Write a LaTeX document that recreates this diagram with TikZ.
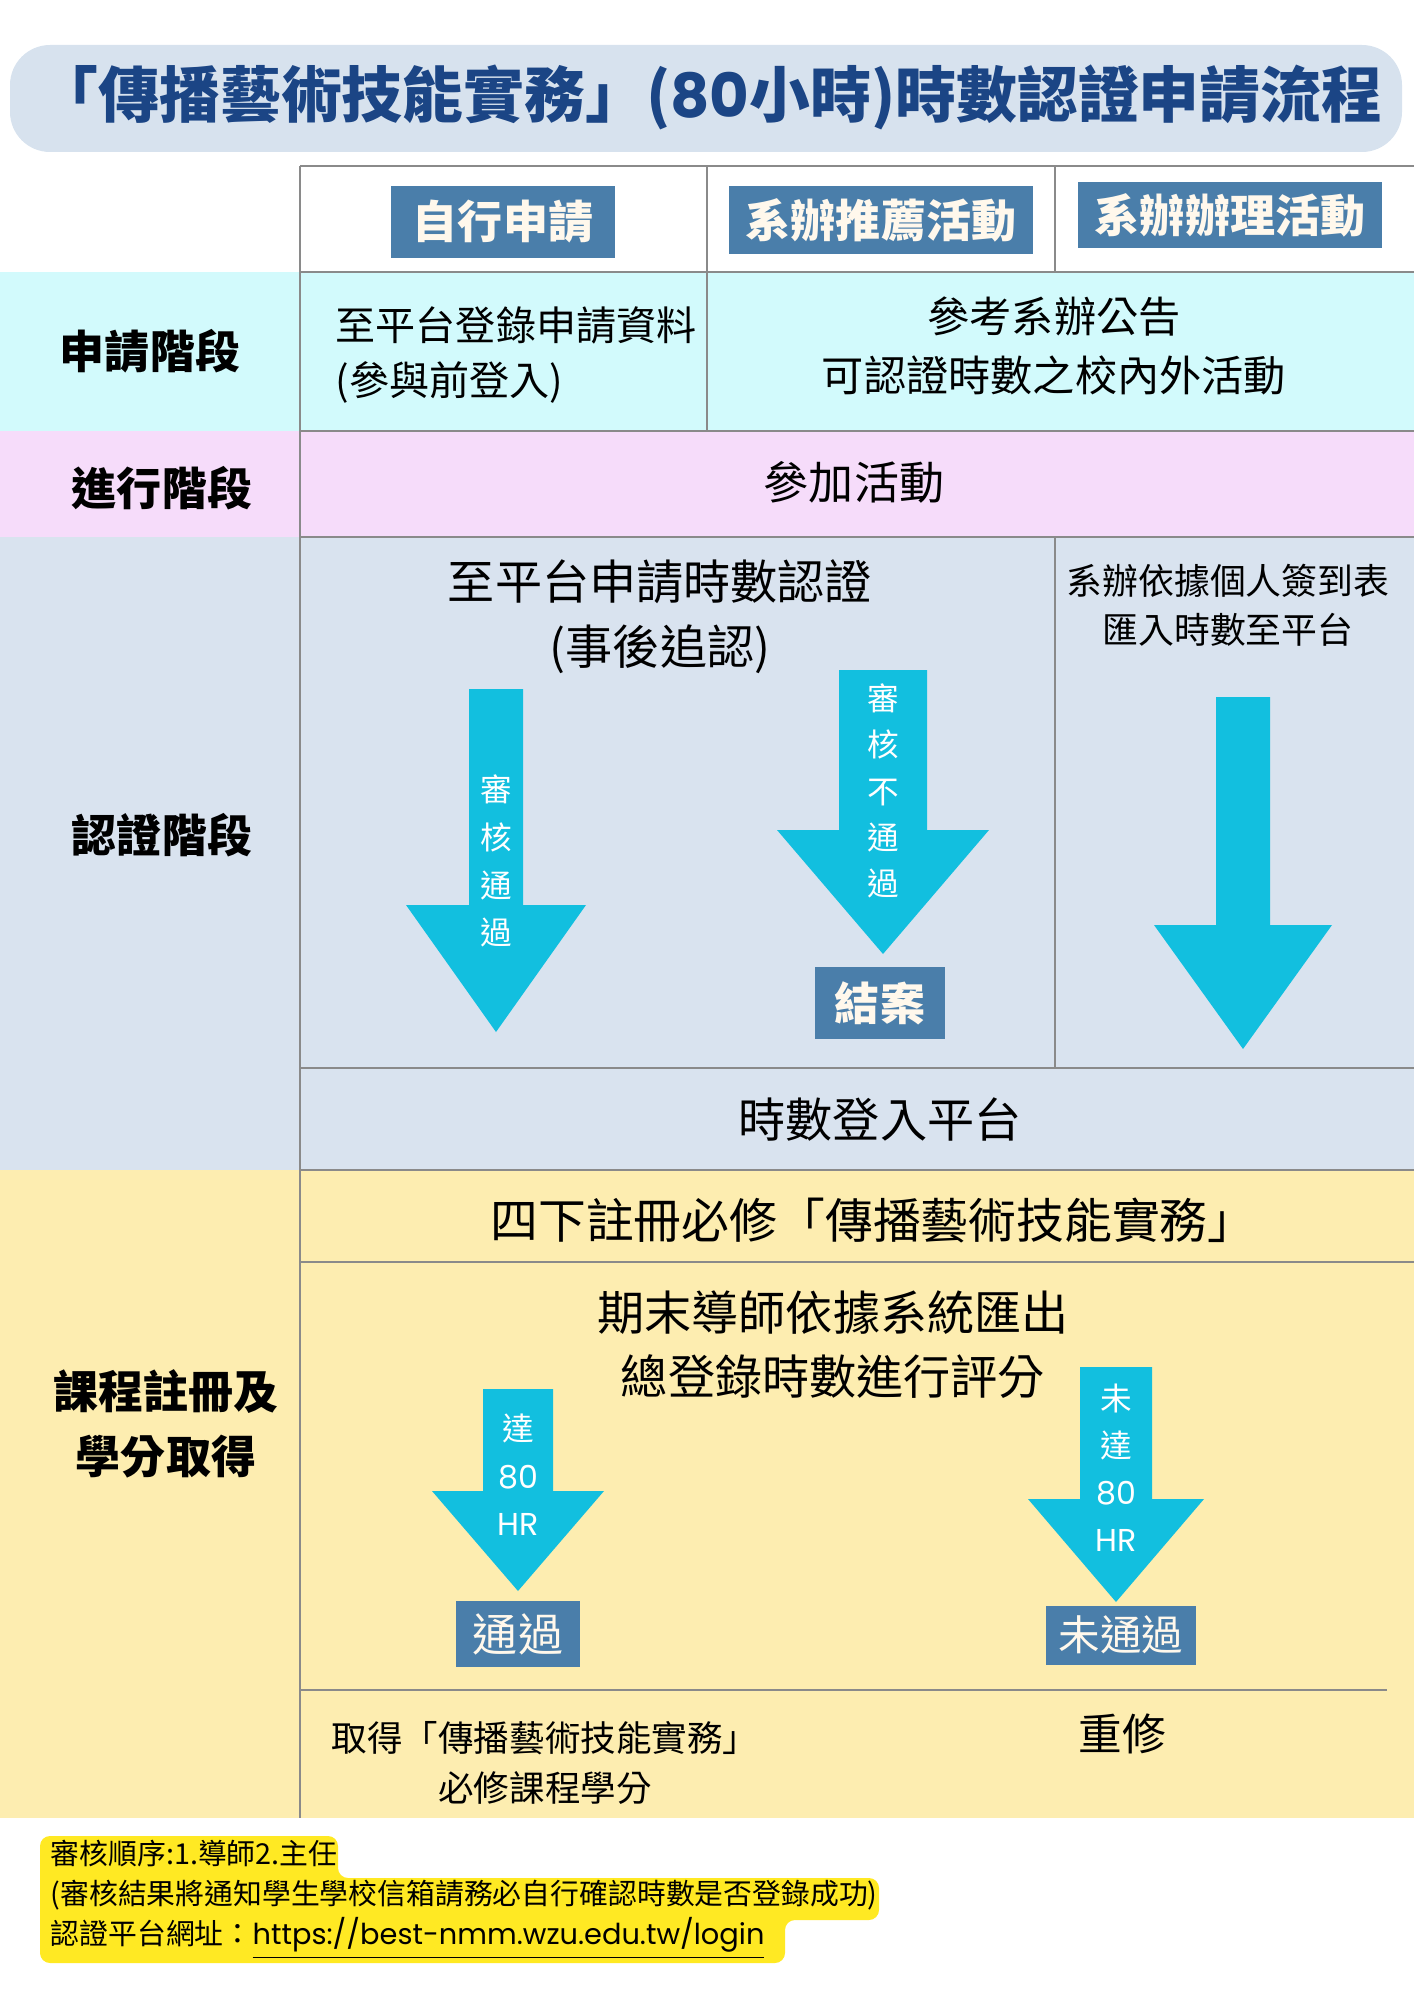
\documentclass[tikz,border=0pt]{standalone}
\usepackage{fontspec}
\setmainfont{Noto Sans CJK TC}
\newfontfamily\latinfont{Poppins}
\usepackage{tikz}
\usetikzlibrary{positioning}
\definecolor{titleblue}{HTML}{1B4585}
\definecolor{titlebg}{HTML}{D7E2EE}
\definecolor{tagblue}{HTML}{4A7EAA}
\definecolor{tagtext}{HTML}{FFF8EC}
\definecolor{arrowcyan}{HTML}{12BFDF}
\definecolor{applybg}{HTML}{D2FAFC}
\definecolor{progressbg}{HTML}{F6DCFA}
\definecolor{certifybg}{HTML}{D9E3EF}
\definecolor{coursebg}{HTML}{FDEDB0}
\definecolor{notebg}{HTML}{FFE923}
\definecolor{gridgray}{HTML}{8A8A8A}
\newcommand\blockarrow[6]{%
  \fill[arrowcyan] (#1-#2,#3) -- (#1+#2,#3) -- (#1+#2,#5) -- (#1+#4,#5)
    -- (#1,#6) -- (#1-#4,#5) -- (#1-#2,#5) -- cycle;}

\begin{document}
\begin{tikzpicture}[x=0.01cm,y=-0.01cm,
    grid/.style={draw=gridgray,line width=0.6pt},
    tag/.style={fill=tagblue,text=tagtext,inner sep=0pt,
      font=\fontsize{12.8}{15}\selectfont\bfseries},
    stage/.style={font=\fontsize{12.8}{18.5}\selectfont\bfseries,align=center},
    body/.style={align=center,inner sep=0pt},
    vlabel/.style={text=white,align=center,inner sep=0pt}]
  \useasboundingbox (0,0) rectangle (1414,2000);
  % title
  \fill[titlebg,rounded corners=0.4cm] (10,45) rectangle (1402,152);
  \node[text=titleblue,font=\fontsize{17.3}{20}\selectfont\bfseries] (title) at (710,97)
    {「傳播藝術技能實務」({\latinfont 80}小時)時數認證申請流程};
  % row backgrounds
  \fill[applybg] (0,272) rectangle (1414,431);
  \fill[progressbg] (0,431) rectangle (1414,537);
  \fill[certifybg] (0,537) rectangle (1414,1170);
  \fill[coursebg] (0,1170) rectangle (1414,1818);
  % grid
  \draw[grid] (300,166) -- (1414,166);
  \draw[grid] (300,166) -- (300,1818);
  \draw[grid] (707,166) -- (707,431);
  \draw[grid] (1055,166) -- (1055,272);
  \draw[grid] (1055,537) -- (1055,1068);
  \foreach \y in {272,431,537,1068,1170,1262}
    \draw[grid] (300,\y) -- (1414,\y);
  \draw[grid] (300,1690) -- (1387,1690);
  % header tags
  \node[tag,minimum width=2.23cm,minimum height=0.71cm] (self) at (503,222) {自行申請};
  \node[tag,minimum width=3.04cm,minimum height=0.67cm] (recommend) at (881,220) {系辦推薦活動};
  \node[tag,minimum width=3.04cm,minimum height=0.66cm] (host) at (1230,215) {系辦辦理活動};
  % stage labels
  \node[stage] (apply) at (150,351) {申請階段};
  \node[stage] (progress) at (162,488) {進行階段};
  \node[stage] (certify) at (162,835) {認證階段};
  \node[stage] (course) at (166,1424) {課程註冊及\\學分取得};
  % apply row
  \node[body,align=left,anchor=west,font=\fontsize{11.4}{15.6}\selectfont] (register) at (335,355)
    {至平台登錄申請資料\\(參與前登入)};
  \node[body,font=\fontsize{12}{16.8}\selectfont] (notice) at (1054,346)
    {參考系辦公告\\可認證時數之校內外活動};
  % progress row
  \node[body,font=\fontsize{12.8}{15}\selectfont] (join) at (854,482) {參加活動};
  % certify row
  \node[body,font=\fontsize{13.4}{18.5}\selectfont] (claim) at (660,617)
    {至平台申請時數認證\\(事後追認)};
  \node[body,font=\fontsize{10.2}{14}\selectfont] (import) at (1228,605)
    {系辦依據個人簽到表\\匯入時數至平台};
  \blockarrow{496}{27}{689}{90}{905}{1032}
  \blockarrow{883}{44}{670}{106}{830}{954}
  \blockarrow{1243}{27}{697}{89}{925}{1049}
  \node[vlabel,font=\fontsize{9}{13.6}\selectfont] (pass) at (496,861) {審\\核\\通\\過};
  \node[vlabel,font=\fontsize{9}{13.2}\selectfont] (fail) at (883,791) {審\\核\\不\\通\\過};
  \node[tag,minimum width=1.29cm,minimum height=0.72cm] (closed) at (880,1003) {結案};
  \node[body,font=\fontsize{13.4}{15}\selectfont] (logged) at (880,1120) {時數登入平台};
  % course row
  \node[body,font=\fontsize{13.6}{15}\selectfont] (enrol) at (873,1221)
    {四下註冊必修「傳播藝術技能實務」};
  \node[body,font=\fontsize{13.4}{18.2}\selectfont] (grade) at (833,1345)
    {期末導師依據系統匯出\\總登錄時數進行評分};
  \blockarrow{518}{35}{1389}{86}{1491}{1591}
  \blockarrow{1116}{36}{1367}{88}{1499}{1602}
  \node[vlabel,font=\fontsize{9}{13.5}\selectfont] (reach) at (518,1475)
    {達\\{\latinfont 80}\\{\latinfont HR}};
  \node[vlabel,font=\fontsize{9}{13.4}\selectfont] (short) at (1116,1468)
    {未\\達\\{\latinfont 80}\\{\latinfont HR}};
  \node[tag,font=\fontsize{12.8}{15}\selectfont,minimum width=1.24cm,minimum height=0.66cm]
    (passed) at (518,1634) {通過};
  \node[tag,font=\fontsize{11.8}{15}\selectfont,minimum width=1.5cm,minimum height=0.59cm]
    (failed) at (1121,1635) {未通過};
  \node[body,font=\fontsize{10.1}{14.2}\selectfont] (credit) at (545,1763)
    {取得「傳播藝術技能實務」\\必修課程學分};
  \node[body,font=\fontsize{12.4}{15}\selectfont] (retake) at (1122,1734) {重修};
  % note
  \fill[notebg,rounded corners=0.1cm] (40,1836) -- (338,1836) -- (338,1878) -- (879,1878)
    -- (879,1920) -- (785,1920) -- (785,1963) -- (40,1963) -- cycle;
  \node[body,align=left,anchor=west,font=\fontsize{8.2}{11.4}\selectfont] (note) at (50,1900)
    {審核順序:1.導師2.主任\\(審核結果將通知學生學校信箱請務必自行確認時數是否登錄成功)\\
     認證平台網址：\underline{\latinfont https://best-nmm.wzu.edu.tw/login}};
\end{tikzpicture}
\end{document}
